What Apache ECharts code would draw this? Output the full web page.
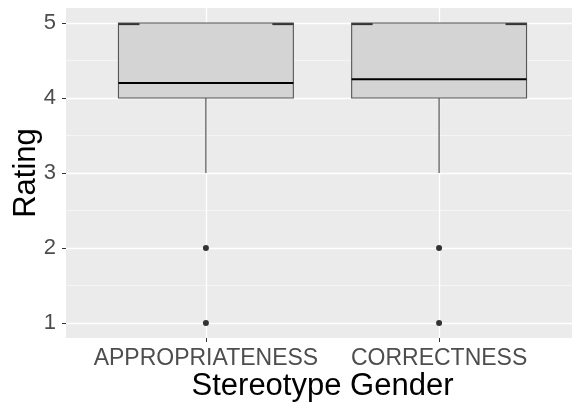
<!DOCTYPE html>
<html>
<head>
<meta charset="utf-8">
<script src="https://cdn.jsdelivr.net/npm/echarts@6/dist/echarts.min.js"></script>
<style>
  html, body { margin: 0; padding: 0; background: #fff; }
  #main { width: 572px; height: 405px; }
</style>
</head>
<body>
<div id="main"></div>
<script>
// box statistics per category
var categories = ['APPROPRIATENESS', 'CORRECTNESS'];
var q1 = [4, 4];
var median = [4.2, 4.25];
var q3 = [5, 5];
var whiskerLow = [3, 3];
var whiskerHigh = [5, 5];
var outliers = [[2, 1], [2, 1]];
var yTicks = [1, 2, 3, 4, 5];
var yMinor = [1.5, 2.5, 3.5, 4.5];

var boxData = categories.map(function (c, i) {
    return [i + 1, whiskerLow[i], q1[i], median[i], q3[i], whiskerHigh[i]];
});
var pointData = [];
outliers.forEach(function (list, i) {
    list.forEach(function (v) { pointData.push([i + 1, v]); });
});

var font = 'Liberation Sans, Arial, sans-serif';

function renderBox(params, api) {
    var x = api.value(0);
    var w = api.size([0.75, 0])[0];
    var lo = api.coord([x, api.value(1)]);
    var b1 = api.coord([x, api.value(2)]);
    var md = api.coord([x, api.value(3)]);
    var b3 = api.coord([x, api.value(4)]);
    var hi = api.coord([x, api.value(5)]);
    var cx = lo[0];
    var left = cx - w / 2;
    var edge = api.coord([x, 4.985])[1];
    var seg = w * 0.12;
    return {
        type: 'group',
        children: [
            { type: 'line', shape: { x1: cx, y1: b1[1], x2: cx, y2: lo[1] },
              style: { stroke: '#333333', lineWidth: 1 } },
            { type: 'line', shape: { x1: cx, y1: b3[1], x2: cx, y2: hi[1] },
              style: { stroke: '#333333', lineWidth: 1 } },
            { type: 'rect', shape: { x: left, y: b3[1], width: w, height: b1[1] - b3[1] },
              style: { fill: '#D4D4D4', stroke: '#555555', lineWidth: 1.1 } },
            { type: 'line', shape: { x1: left, y1: edge, x2: left + seg, y2: edge },
              style: { stroke: '#333333', lineWidth: 2 } },
            { type: 'line', shape: { x1: left + w - seg, y1: edge, x2: left + w, y2: edge },
              style: { stroke: '#333333', lineWidth: 2 } },
            { type: 'line', shape: { x1: left, y1: md[1], x2: left + w, y2: md[1] },
              style: { stroke: '#000000', lineWidth: 2.2 } }
        ]
    };
}

var myChart = echarts.init(document.getElementById('main'));
myChart.setOption({
    backgroundColor: '#ffffff',
    animation: false,
    grid: {
        left: 66, right: -7, top: 8, bottom: 67,
        show: true, backgroundColor: '#EBEBEB', borderWidth: 0,
        outerBoundsMode: 'none'
    },
    xAxis: {
        type: 'value', min: 0.4, max: 2.6,
        name: 'Stereotype Gender', nameLocation: 'middle', nameGap: 33,
        nameMoveOverlap: false,
        nameTextStyle: { fontFamily: font, fontSize: 31, color: '#000' },
        axisLine: { show: false },
        axisTick: { show: true, length: 4, customValues: [1, 2], lineStyle: { color: '#333333', width: 1 } },
        axisLabel: {
            customValues: [1, 2], margin: 9,
            fontFamily: font, fontSize: 23, color: '#4D4D4D',
            formatter: function (v) { return categories[Math.round(v) - 1]; }
        },
        splitLine: { show: true, lineStyle: { color: '#ffffff', width: 1.3 } }
    },
    yAxis: [{
        type: 'value', min: 0.8, max: 5.2,
        name: 'Rating', nameLocation: 'middle', nameGap: 24, nameRotate: 90,
        nameMoveOverlap: false,
        nameTextStyle: { fontFamily: font, fontSize: 31, color: '#000' },
        axisLine: { show: false },
        axisTick: { show: true, length: 4, customValues: yTicks, lineStyle: { color: '#333333', width: 1 } },
        axisLabel: { customValues: yTicks, margin: 10, fontFamily: font, fontSize: 22, color: '#4D4D4D' },
        splitLine: { show: true, lineStyle: { color: '#ffffff', width: 1.3 } }
    }, {
        type: 'value', min: 0.8, max: 5.2, position: 'left',
        axisLine: { show: false },
        axisTick: { show: false, customValues: yMinor },
        axisLabel: { show: false, customValues: yMinor },
        splitLine: { show: true, lineStyle: { color: '#F7F7F7', width: 0.8 } }
    }],
    series: [{
        type: 'custom',
        renderItem: renderBox,
        data: boxData,
        z: 3
    }, {
        type: 'scatter',
        data: pointData,
        symbolSize: 6,
        itemStyle: { color: '#333333', opacity: 1 },
        z: 4
    }]
});
</script>
</body>
</html>
